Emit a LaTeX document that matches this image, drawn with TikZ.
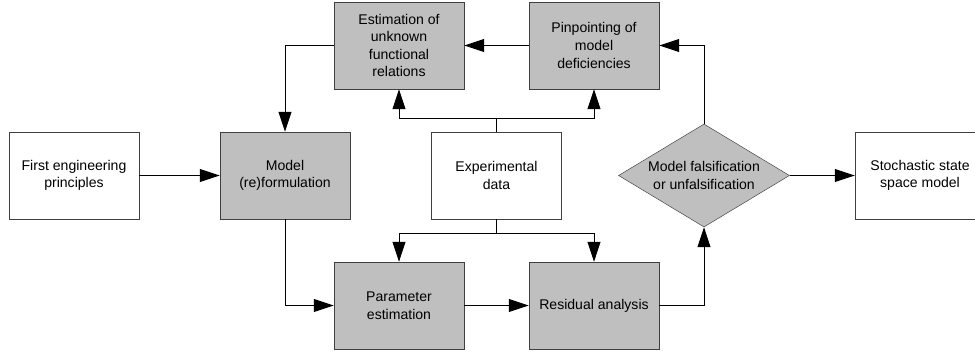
\documentclass[tikz,border=0pt]{standalone}
\usepackage{fontspec}
\setmainfont{Liberation Sans}
\usetikzlibrary{arrows.meta, shapes.geometric}
\tikzset{
    stepbox/.style={draw=black!75,minimum height=2.61cm,minimum width=3.9cm,align=center,font=\fontsize{12}{15}\selectfont},
    work/.style={stepbox,fill=black!25},
    decide/.style={diamond,draw=black!75,fill=black!25,inner sep=0pt,aspect=1.66,minimum width=5.13cm,minimum height=3.09cm,align=center,font=\fontsize{12}{15}\selectfont},
    flow/.style={-{Triangle[length=0.6cm,width=0.39cm]},line width=0.8pt},
    plain/.style={line width=0.8pt},
}

\begin{document}
\begin{tikzpicture}
            \useasboundingbox (0,0) rectangle (29.25,-10.59);
            \node[stepbox] (first) at (2.22,-5.265){First engineering\\principles};
            \node[work] (model) at (8.55,-5.265){Model\\(re)formulation};
            \node[work] (estim) at (11.97,-1.365){Estimation of\\unknown\\functional\\relations};
            \node[work] (pinpoint) at (17.82,-1.365){Pinpointing of\\model\\deficiencies};
            \node[stepbox] (data) at (14.895,-5.265){Experimental\\data};
            \node[work] (param) at (11.97,-9.165){Parameter\\estimation};
            \node[work] (resid) at (17.82,-9.165){Residual analysis};
            \node[decide] (falsify) at (21.12,-5.265){Model falsification\\or unfalsification};
            \node[stepbox] (ssm) at (27.6,-5.265){Stochastic state\\space model};
            \coordinate (dataup) at (14.895,-3.54);
            \coordinate (datadown) at (14.895,-6.99);
            \draw[flow] (first.east)--(model.west);
            \draw[flow] (estim.west)-|(model.north);
            \draw[flow] (pinpoint.west)--(estim.east);
            \draw[plain] (data.north)--(dataup);
            \draw[flow] (dataup)-|(estim.south);
            \draw[flow] (dataup)-|(pinpoint.south);
            \draw[plain] (data.south)--(datadown);
            \draw[flow] (datadown)-|(param.north);
            \draw[flow] (datadown)-|(resid.north);
            \draw[flow] (model.south)|-(param.west);
            \draw[flow] (param.east)--(resid.west);
            \draw[flow] (resid.east)-|(falsify.south);
            \draw[flow] (falsify.north)|-(pinpoint.east);
            \draw[flow] (falsify.east)--(ssm.west);
        \end{tikzpicture}
\end{document}
